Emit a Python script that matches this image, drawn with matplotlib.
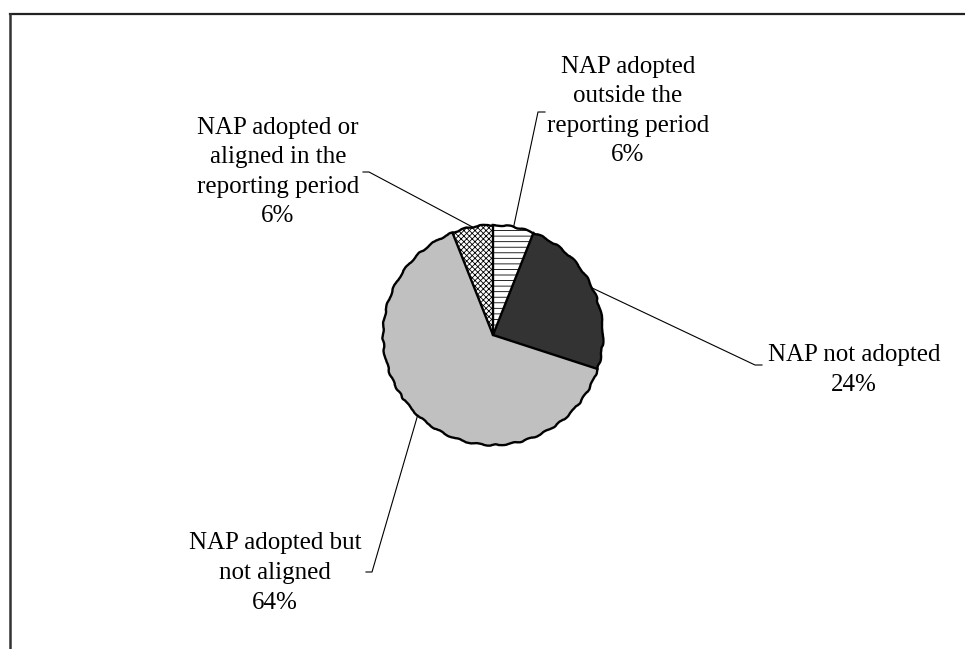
import numpy as np
import matplotlib
matplotlib.use('Agg')
import matplotlib.pyplot as plt
from matplotlib.lines import Line2D
from matplotlib.patches import Circle

plt.rcParams['font.family'] = ['Liberation Serif', 'DejaVu Serif']
plt.rcParams['hatch.linewidth'] = 0.6

# data
labels = ['NAP adopted\noutside the\nreporting period',
          'NAP not adopted',
          'NAP adopted but\nnot aligned',
          'NAP adopted or\naligned in the\nreporting period']
values = [6, 24, 64, 6]
colors = ['white', '#333333', '#c0c0c0', 'white']
hatches = ['---', '', '', 'xxxxxx']

# layout (pixel coords, y from top)
W, H = 965, 649
center = (493, 335)
radius = 110
text_pos = [(628, 111), (854, 370), (275, 573), (278, 172)]
elbows = [((538, 112), (545, 112)),
          ((755, 365), (762, 365)),
          ((372, 572), (366, 572)),
          ((369, 172), (363, 172))]

fig = plt.figure(figsize=(W / 100, H / 100), dpi=100)
ax = fig.add_axes([0, 0, 1, 1])

# y axis is inverted below, so counterclock here draws clockwise on screen
wedges, _ = ax.pie(values, center=center, radius=radius, startangle=-90,
                   counterclock=True, colors=colors,
                   wedgeprops=dict(edgecolor='none', linewidth=0))
for w, h in zip(wedges, hatches):
    if h:
        w.set_hatch(h)
        w.set_edgecolor('black')
        w.set_linewidth(0)

ax.set_xlim(0, W)
ax.set_ylim(H, 0)
ax.set_aspect('equal')
ax.axis('off')

# radial edges straight, outer rim slightly wavy like the old export
for w in wedges:
    a = np.deg2rad(w.theta1)
    ax.plot([center[0], center[0] + radius * np.cos(a)],
            [center[1], center[1] + radius * np.sin(a)],
            color='black', lw=1.7, solid_capstyle='round')
rim = Circle(center, radius, fill=False, edgecolor='black', lw=1.7)
rim.set_sketch_params(scale=0.7, length=22, randomness=3)
ax.add_patch(rim)

for i, w in enumerate(wedges):
    ang = np.deg2rad((w.theta1 + w.theta2) / 2)
    x0 = center[0] + radius * np.cos(ang)
    y0 = center[1] + radius * np.sin(ang)
    (ex, ey), (hx, hy) = elbows[i]
    ax.plot([x0, ex, hx], [y0, ey, hy], color='black', lw=0.8)
    ax.text(text_pos[i][0], text_pos[i][1], labels[i] + '\n%d%%' % values[i],
            ha='center', va='center', fontsize=18, linespacing=1.45)

# chart frame (only top and left edges are visible in the crop)
fig.add_artist(Line2D([10 / W, 1], [1 - 14 / H, 1 - 14 / H], color='#222222', lw=1.6))
fig.add_artist(Line2D([10 / W, 10 / W], [0, 1 - 14 / H], color='#333333', lw=1.8))

fig.savefig('out.png', dpi=100, facecolor='white')
